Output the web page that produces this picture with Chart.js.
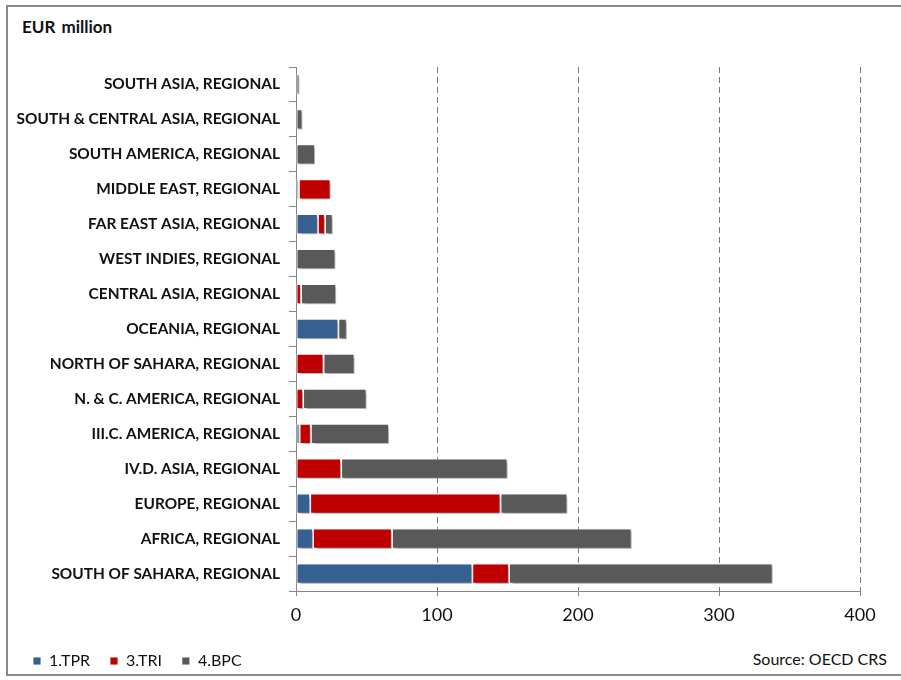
<!DOCTYPE html>
<html lang="en">
<head>
    <meta charset="UTF-8">
    <title>EUR million - regional</title>
    <script src="https://cdn.jsdelivr.net/npm/chart.js"></script>
    <style>
        body { margin: 0; background: #fff; font-family: Lato, sans-serif; }
        #wrap { position: relative; width: 901px; height: 680px; overflow: hidden; }
        #frame { position: absolute; left: 6px; top: 5px; width: 900px; height: 671px; border: 2px solid #8a8a8a; box-sizing: border-box; }
        #unit { position: absolute; left: 22px; top: 16px; font: bold 17px Lato, sans-serif; color: #111; word-spacing: 2px; }
        #source { position: absolute; right: 14px; top: 649px; font: 16px Lato, sans-serif; color: #111; }
        canvas { position: absolute; left: 0; top: 0; }
    </style>
</head>
<body>
<div id="wrap">
    <div id="frame"></div>
    <div id="unit">EUR million</div>
    <div id="source">Source: OECD CRS</div>
    <canvas id="chart" width="901" height="680"></canvas>
</div>
<script>
    const regions = [
        'SOUTH ASIA, REGIONAL',
        'SOUTH & CENTRAL ASIA, REGIONAL',
        'SOUTH AMERICA, REGIONAL',
        'MIDDLE EAST, REGIONAL',
        'FAR EAST ASIA, REGIONAL',
        'WEST INDIES, REGIONAL',
        'CENTRAL ASIA, REGIONAL',
        'OCEANIA, REGIONAL',
        'NORTH OF SAHARA, REGIONAL',
        'N. & C. AMERICA, REGIONAL',
        'III.C. AMERICA, REGIONAL',
        'IV.D. ASIA, REGIONAL',
        'EUROPE, REGIONAL',
        'AFRICA, REGIONAL',
        'SOUTH OF SAHARA, REGIONAL'
    ];
    const tpr = [0, 0, 0, 2, 15.5, 0, 0, 30, 0, 0, 2.5, 0, 10, 12, 125];
    const tri = [0, 0, 0, 22.5, 5, 0, 3.5, 0, 19.5, 5, 8, 32, 135, 56, 26];
    const bpc = [2.5, 4.5, 13.5, 0, 5.5, 28, 25, 6, 22, 45, 55.5, 118, 47.5, 170, 187];
    const xTicks = [0, 100, 200, 300, 400];

    // soft drop shadow under the bar segments
    const barShadow = {
        id: 'barShadow',
        beforeDatasetsDraw(chart) {
            const ctx = chart.ctx;
            ctx.save();
            ctx.shadowColor = 'rgba(0,0,0,0.4)';
            ctx.shadowBlur = 3;
            ctx.shadowOffsetX = 2;
            ctx.shadowOffsetY = 2;
        },
        afterDatasetsDraw(chart) {
            chart.ctx.restore();
        }
    };

    const seg = (label, data, color) => ({
        label, data,
        backgroundColor: color,
        borderColor: 'rgba(255,255,255,0.85)',
        borderWidth: 1,
        borderSkipped: false,
        barPercentage: 0.58,
        categoryPercentage: 1
    });

    new Chart(document.getElementById('chart'), {
        type: 'bar',
        data: {
            labels: regions,
            datasets: [
                seg('1.TPR', tpr, '#365f92'),
                seg('3.TRI', tri, '#c00000'),
                seg('4.BPC', bpc, '#595959')
            ]
        },
        plugins: [barShadow],
        options: {
            indexAxis: 'y',
            responsive: false,
            animation: false,
            devicePixelRatio: 1,
            layout: { padding: { left: 13, right: 41, top: 67, bottom: 1 } },
            plugins: {
                tooltip: { enabled: false },
                legend: {
                    position: 'bottom',
                    align: 'start',
                    labels: {
                        boxWidth: 8, boxHeight: 8, padding: 20,
                        color: '#111',
                        font: { family: 'Lato', size: 16 }
                    }
                }
            },
            scales: {
                x: {
                    stacked: true,
                    min: 0, max: 400,
                    afterBuildTicks: s => { s.ticks = xTicks.map(v => ({ value: v })); },
                    afterFit: s => { s.height = 42; },
                    border: { color: '#868686', width: 1, dash: [6, 4] },
                    grid: {
                        color: c => c.tick && c.tick.value === 0 ? 'rgba(0,0,0,0)' : '#7a7a7a',
                        tickColor: '#868686',
                        tickLength: 5,
                        tickBorderDash: []
                    },
                    ticks: { color: '#111', padding: 8, font: { family: 'Lato', size: 18 } }
                },
                y: {
                    stacked: true,
                    afterFit: s => { s.width = 283; },
                    border: { color: '#868686', width: 1 },
                    grid: {
                        offset: true,
                        drawOnChartArea: false,
                        tickColor: '#868686',
                        tickLength: 7
                    },
                    ticks: { color: '#111', padding: 9, font: { family: 'Lato', size: 15.4, weight: 'bold' } }
                }
            }
        }
    });
</script>
</body>
</html>
